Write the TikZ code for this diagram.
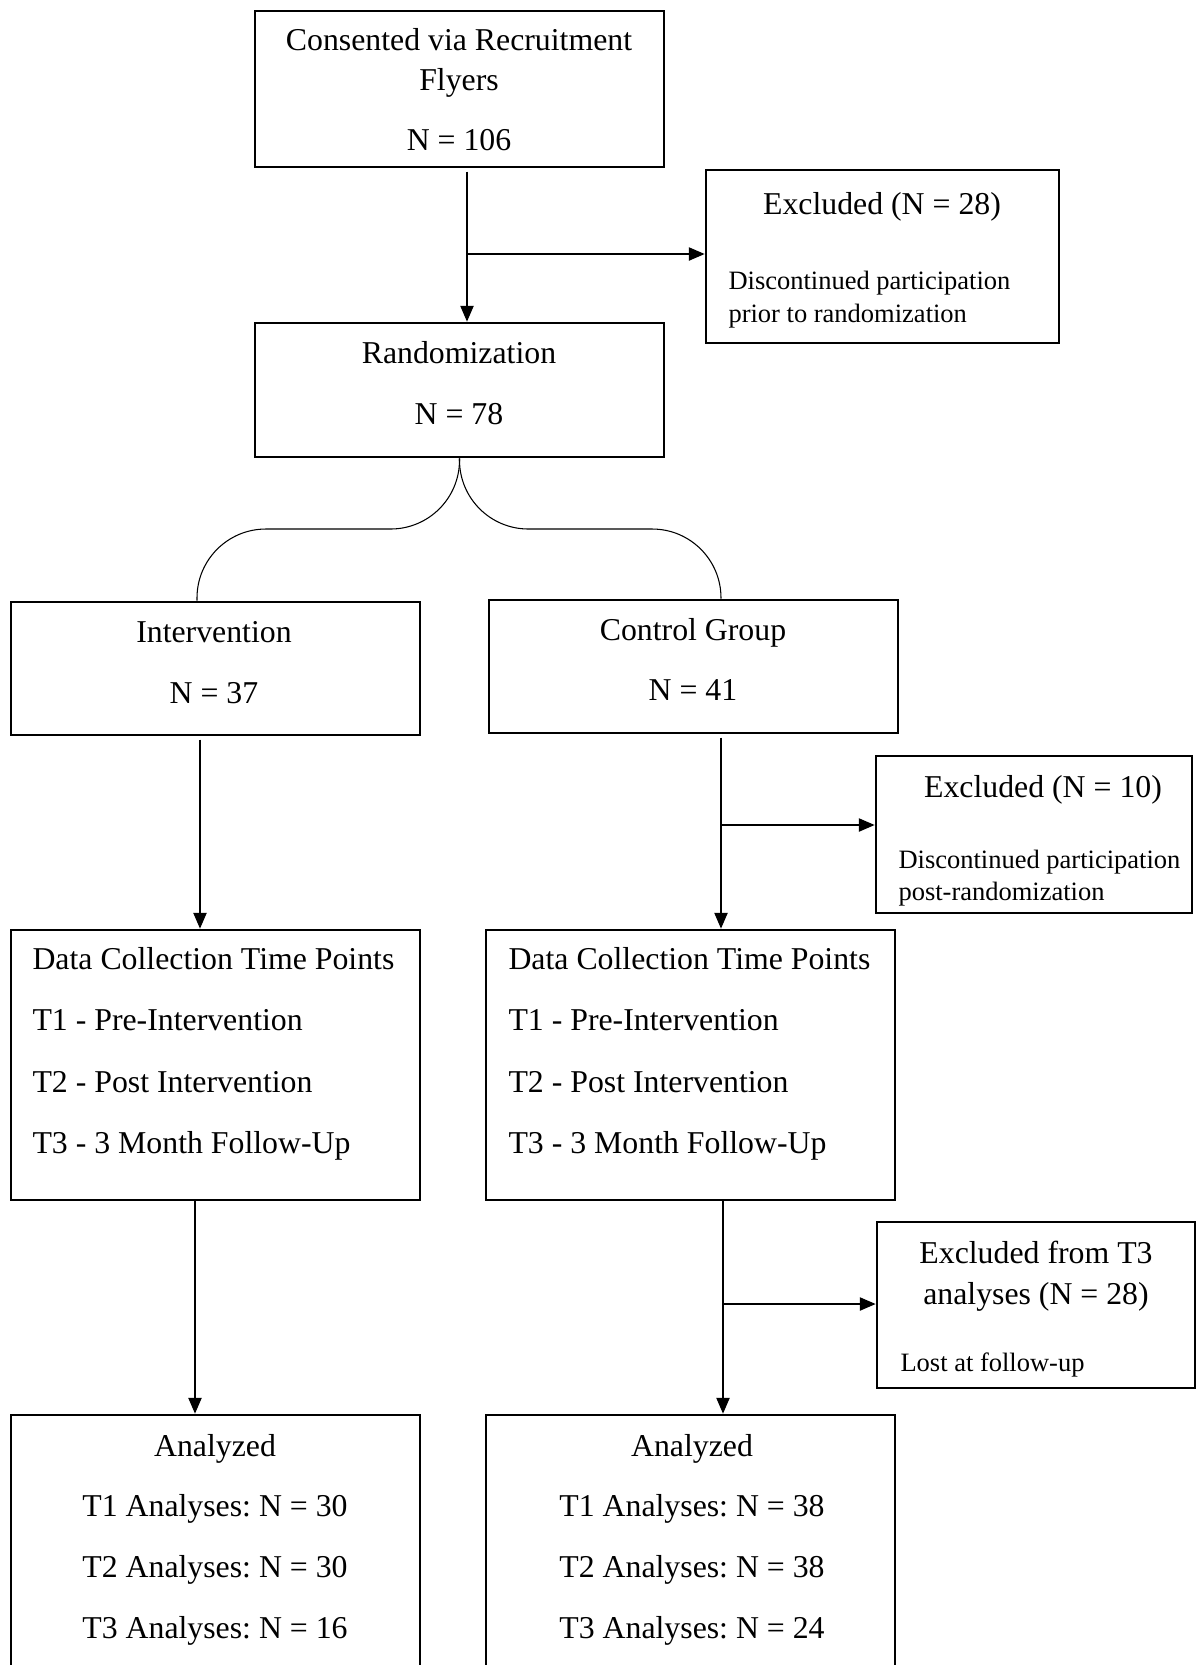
\documentclass[tikz,border=0pt]{standalone}
\usepackage{fontspec}
\setmainfont{Liberation Serif}
\usetikzlibrary{arrows.meta,fit}

\tikzset{
  box/.style={draw,line width=1pt,inner sep=0pt},
  big/.style={font=\fontsize{12}{14}\selectfont,inner sep=0pt,anchor=base},
  small/.style={font=\fontsize{10}{12}\selectfont,inner sep=0pt,anchor=base west},
  arr/.style={line width=0.6pt,-{Triangle[length=6pt,width=5pt]}},
  down/.style={arr,shorten <=1.2pt},
  split/.style={line width=0.4pt,rounded corners=26pt},
}

\begin{document}
\frenchspacing
\begin{tikzpicture}[x=0.3774pt,y=-0.3774pt]
\clip (0,0) rectangle (1196,1665);
% boxes
\node[box,fit={(255,11) (664,167)}] (consent) {};
\node[box,fit={(706,170) (1059,343)}] (excl1) {};
\node[box,fit={(255,323) (664,457)}] (rand) {};
\node[box,fit={(11,602) (420,735)}] (interv) {};
\node[box,fit={(489,600) (898,733)}] (ctrl) {};
\node[box,fit={(876,756) (1192,913)}] (excl2) {};
\node[box,fit={(11,930) (420,1200)}] (dcL) {};
\node[box,fit={(486,930) (895,1200)}] (dcR) {};
\node[box,fit={(877,1222) (1195,1388)}] (excl3) {};
\node[box,fit={(11,1415) (420,1720)}] (anL) {};
\node[box,fit={(486,1415) (895,1720)}] (anR) {};

% texts
\node[big] (consent1) at (459,50) {Consented via Recruitment};
\node[big] (consent2) at (459,90) {Flyers};
\node[big] (consent3) at (459,150) {N = 106};
\node[big] (excl1a) at (882,214) {Excluded (N = 28)};
\node[small] (excl1b) at (728,289) {Discontinued participation};
\node[small] (excl1c) at (728,322) {prior to randomization};
\node[big] (rand1) at (459,363) {Randomization};
\node[big] (rand2) at (459,424) {N = 78};
\node[big] (interv1) at (214,642) {Intervention};
\node[big] (interv2) at (214,703) {N = 37};
\node[big] (ctrl1) at (693,640) {Control Group};
\node[big] (ctrl2) at (693,700) {N = 41};
\node[big] (excl2a) at (1043,797) {Excluded (N = 10)};
\node[small] (excl2b) at (898,868) {Discontinued participation};
\node[small] (excl2c) at (898,900) {post-randomization};
\foreach \t [count=\i] in {Data Collection Time Points,T1 - Pre-Intervention,T2 - Post Intervention,T3 - 3 Month Follow-Up}{
  \node[big,anchor=base west] (dcL\i) at (32,{969+61.6*(\i-1)}) {\t};
  \node[big,anchor=base west] (dcR\i) at (508,{969+61.6*(\i-1)}) {\t};
}
\node[big] (excl3a) at (1036,1263) {Excluded from T3};
\node[big] (excl3b) at (1036,1304) {analyses (N = 28)};
\node[small] (excl3c) at (900,1371) {Lost at follow-up};
\foreach \t [count=\i] in {Analyzed,T1 Analyses: N = 30,T2 Analyses: N = 30,T3 Analyses: N = 16}
  \node[big] (anL\i) at (215,{1456+60.8*(\i-1)}) {\t};
\foreach \t [count=\i] in {Analyzed,T1 Analyses: N = 38,T2 Analyses: N = 38,T3 Analyses: N = 24}
  \node[big] (anR\i) at (692,{1456+60.8*(\i-1)}) {\t};

% connectors
\coordinate (br1) at (467,254);
\coordinate (br2) at (721,825);
\coordinate (br3) at (723,1304);
\coordinate (splitL) at (197,529);
\coordinate (splitR) at (721,529);
\draw[down] (consent.south -| br1) -- (rand.north -| br1);
\draw[arr] (br1) -- (excl1.west |- br1);
\draw[split] (rand.south) |- (splitL) -- (interv.north -| splitL);
\draw[split] (rand.south) |- (splitR) -- (ctrl.north -| splitR);
\draw[down] (interv.south -| 200,0) -- (dcL.north -| 200,0);
\draw[down] (ctrl.south -| br2) -- (dcR.north -| br2);
\draw[arr] (br2) -- (excl2.west |- br2);
\draw[arr] (dcL.south -| 195,0) -- (anL.north -| 195,0);
\draw[arr] (dcR.south -| br3) -- (anR.north -| br3);
\draw[arr] (br3) -- (excl3.west |- br3);
\end{tikzpicture}
\end{document}
